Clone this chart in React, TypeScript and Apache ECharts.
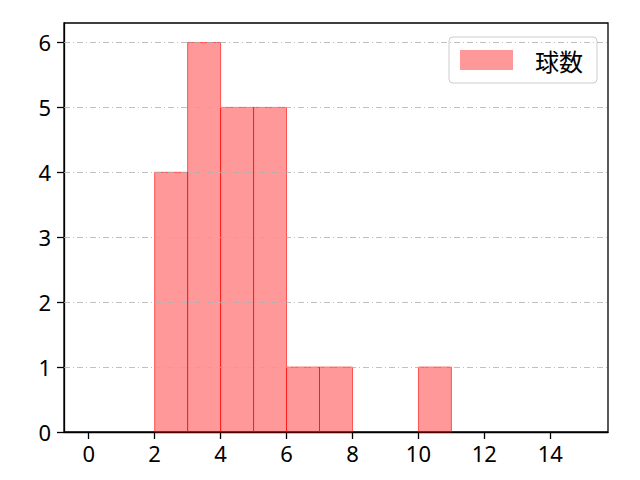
import React, { useEffect, useRef } from 'react';
import * as echarts from 'echarts';

const binStarts = [2, 3, 4, 5, 6, 7, 10];
const binWidth = 1;
const counts = [4, 6, 5, 5, 1, 1, 1];
const xTicks = [0, 2, 4, 6, 8, 10, 12, 14];
const yTicks = [0, 1, 2, 3, 4, 5, 6];
const seriesName = '球数';

const HistChart: React.FC = () => {
  const chartRef = useRef<HTMLDivElement | null>(null);

  useEffect(() => {
    const chart = echarts.init(chartRef.current!, null, { renderer: 'svg' });
    const font = "'Noto Sans', 'Noto Sans CJK JP', sans-serif";

    const option: any = {
      animation: false,
      textStyle: { fontFamily: font },
      grid: {
        left: 64, right: 32, top: 23, bottom: 48,
        show: true, borderColor: '#000', borderWidth: 1.3, backgroundColor: 'transparent',
      },
      legend: {
        right: 43, top: 37,
        padding: [11, 14, 11, 11],
        borderColor: '#cccccc', borderWidth: 1, borderRadius: 4,
        backgroundColor: '#fff',
        itemWidth: 53, itemHeight: 20,
        textStyle: { fontSize: 24, color: '#000', fontFamily: "'Noto Sans CJK JP', sans-serif", padding: [0, 0, 0, 17] },
        data: [{ name: seriesName, icon: 'rect', itemStyle: { color: 'rgba(255,0,0,0.4)', borderColor: 'rgba(255,0,0,0.4)' } }],
      },
      xAxis: {
        type: 'value', min: -0.75, max: 15.75,
        axisLine: { show: true, onZero: false, lineStyle: { color: '#000', width: 1.3 } },
        axisTick: { show: true, length: 7, customValues: xTicks, lineStyle: { color: '#000', width: 1.3 } },
        axisLabel: { customValues: xTicks, fontSize: 22, color: '#000', margin: 10, fontFamily: font },
        splitLine: { show: false },
      },
      yAxis: {
        type: 'value', min: 0, max: 6.3,
        axisLine: { show: true, onZero: false, lineStyle: { color: '#000', width: 1.3 } },
        axisTick: { show: true, length: 7, customValues: yTicks, lineStyle: { color: '#000', width: 1.3 } },
        axisLabel: { customValues: yTicks, fontSize: 22, color: '#000', margin: 13, fontFamily: font },
        splitLine: { show: false },
      },
      series: [
        {
          // dash-dot grid lines
          type: 'line',
          silent: true,
          data: [],
          markLine: {
            silent: true, symbol: 'none', label: { show: false },
            lineStyle: { color: '#b0b0b0', width: 0.8, type: [6, 3, 1, 3] },
            data: yTicks.filter((v) => v > 0).map((v) => ({ yAxis: v })),
          },
          z: 1,
        },
        {
          name: seriesName,
          type: 'custom',
          z: 2,
          data: binStarts.map((s, i) => [s, s + binWidth, counts[i]]),
          renderItem: (params: any, api: any) => {
            const p0 = api.coord([api.value(0), api.value(2)]);
            const p1 = api.coord([api.value(1), 0]);
            return {
              type: 'rect',
              shape: { x: p0[0], y: p0[1], width: p1[0] - p0[0], height: p1[1] - p0[1] },
              style: { fill: 'rgba(255,0,0,0.4)', stroke: 'rgba(255,0,0,0.6)', lineWidth: 1 },
            };
          },
        },
      ],
    };

    chart.setOption(option);
    return () => chart.dispose();
  }, []);

  return <div ref={chartRef} style={{ width: '640px', height: '480px' }} />;
};

export default function App() {
  return (
    <div style={{ margin: -8 }}>
      <HistChart />
    </div>
  );
}
